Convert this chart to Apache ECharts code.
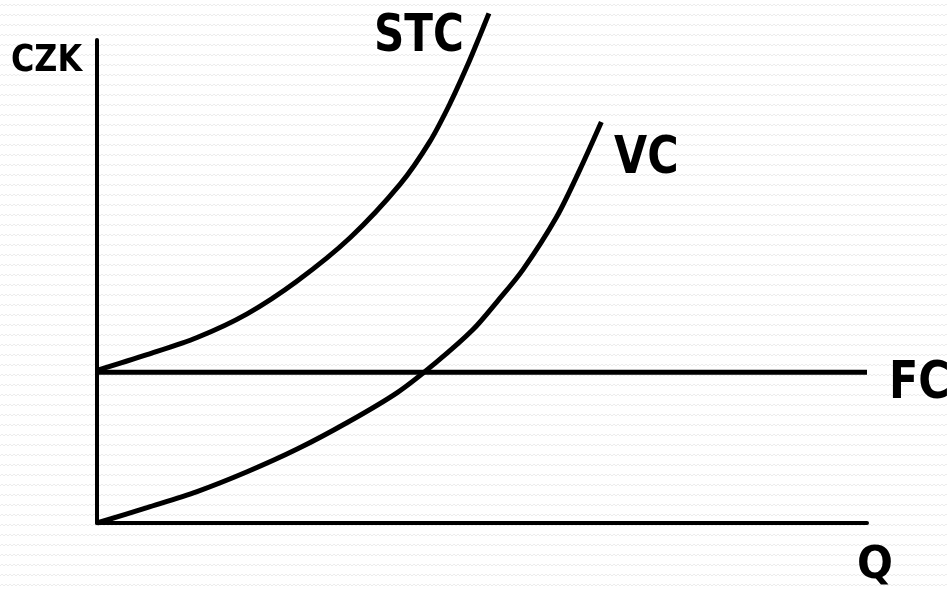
<!DOCTYPE html>
<html>
<head>
<meta charset="utf-8">
<script src="https://cdn.jsdelivr.net/npm/echarts@6/dist/echarts.min.js"></script>
<style>
html,body{margin:0;padding:0;}
body{
  width:947px;height:593px;overflow:hidden;background-color:#ffffff;
  background-image:url("data:image/svg+xml;utf8,<svg xmlns='http://www.w3.org/2000/svg' width='8' height='10'><path d='M0 6 L2 4 L4 6 L6 4 L8 6' stroke='%23ececec' stroke-width='1' fill='none'/></svg>");
}
#chart{width:947px;height:593px;}
</style>
</head>
<body>
<div id="chart"></div>
<script>
// Quantity (x) and cost (y) readings, axis 0..100 on both scales
const stcQ = [0, 6.5, 13.0, 19.5, 26.0, 32.9, 39.4, 43.2, 45.8, 48.1, 49.7, 50.9];
const stcC = [31.6, 34.85, 38.4, 43.3, 50.1, 59.1, 70.2, 78.9, 86.7, 94.7, 100.8, 105.5];
const vcQ = [0, 6.5, 13.0, 19.5, 26.0, 32.5, 39.0, 44.0, 48.8, 52.0, 55.3, 59.7, 62.7, 65.5];
const vcC = [0, 3.2, 6.5, 10.6, 15.3, 20.8, 27.0, 33.2, 40.0, 45.9, 52.4, 63.4, 73.1, 83.0];
const fcQ = [0, 100];
const fcC = [31.2, 31.2];
const labels = { y: 'CZK', x: 'Q', stc: 'STC', vc: 'VC', fc: 'FC' };

const zip = (a, b) => a.map((v, i) => [v, b[i]]);
const chart = echarts.init(document.getElementById('chart'), null, { renderer: 'canvas' });

const FONT = '"DejaVu Sans", Verdana, sans-serif';
function txt(text, x, y, size, sx) {
  return {
    type: 'text', x: x, y: y, scaleX: sx,
    style: { text: text, font: 'bold ' + size + 'px ' + FONT, fill: '#000', align: 'left', verticalAlign: 'middle' }
  };
}

const axisCommon = {
  type: 'value', min: 0, max: 100,
  axisLine: { show: true, onZero: false, lineStyle: { color: '#000', width: 4 } },
  axisTick: { show: false }, axisLabel: { show: false }, splitLine: { show: false }
};

const curve = { type: 'line', symbol: 'none', smooth: 0.3, clip: false,
  lineStyle: { color: '#000', width: 5 } };

chart.setOption({
  animation: false,
  backgroundColor: 'transparent',
  grid: { left: 97, right: 80, top: 40, bottom: 70 },
  xAxis: Object.assign({}, axisCommon),
  yAxis: Object.assign({}, axisCommon),
  series: [
    { name: 'FC', type: 'line', data: zip(fcQ, fcC), symbol: 'none', clip: false,
      lineStyle: { color: '#000', width: 5 } },
    Object.assign({ name: 'VC', data: zip(vcQ, vcC) }, curve),
    Object.assign({ name: 'STC', data: zip(stcQ, stcC) }, curve)
  ],
  graphic: [
    txt(labels.y, 11, 61, 37, 0.86),
    txt(labels.stc, 374, 37, 52, 0.81),
    txt(labels.vc, 614, 160, 51, 0.84),
    txt(labels.fc, 889, 385, 51, 0.84),
    txt(labels.x, 857, 566, 45, 0.94)
  ]
});
</script>
</body>
</html>
